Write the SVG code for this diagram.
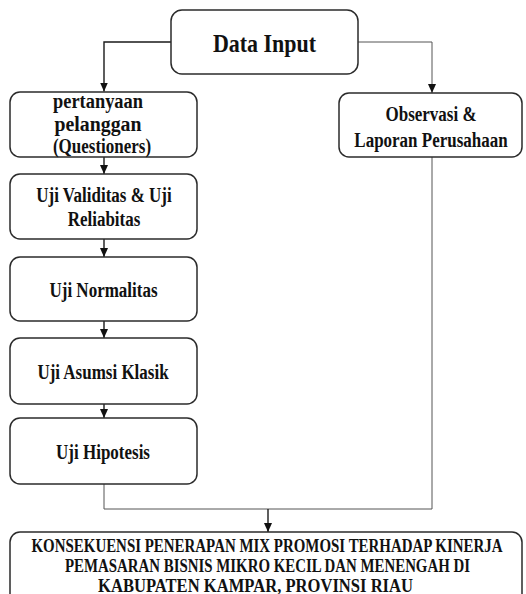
<svg xmlns="http://www.w3.org/2000/svg" width="526" height="594" viewBox="0 0 526 594">
<defs>
<marker id="ah" viewBox="0 0 9 8" refX="9" refY="4" markerWidth="9" markerHeight="8" markerUnits="userSpaceOnUse" orient="auto">
<path d="M0,0 L9,4 L0,8 Z" fill="#111"/>
</marker>
<style>
.box{fill:#fff;stroke:#2b2b2b;stroke-width:1.5}
.t{font-family:"Liberation Serif","Times New Roman",serif;font-weight:bold;fill:#111;text-anchor:middle;font-size:17px}
.c{fill:none;stroke:#1a1a1a;stroke-width:1.4}
.c2{fill:none;stroke:#555;stroke-width:1}
</style>
</defs>
<rect width="526" height="594" fill="#fff"/>
<g id="connectors">
<path class="c" d="M171,42 H104 V91.5" marker-end="url(#ah)"/>
<path class="c2" d="M358,42 H432 V93" marker-end="url(#ah)"/>
<path class="c" d="M104,157 V174" marker-end="url(#ah)"/>
<path class="c" d="M104,239 V257" marker-end="url(#ah)"/>
<path class="c" d="M104,321 V338" marker-end="url(#ah)"/>
<path class="c" d="M104,404 V418" marker-end="url(#ah)"/>
<path class="c2" d="M104,484 V509 H432 V157"/>
<path class="c" d="M268,509 V532" marker-end="url(#ah)"/>
</g>
<g id="data-input">
<rect class="box" x="171" y="10" width="187" height="64" rx="11"/>
<text class="t" transform="translate(264.5,51.5) scale(1,1.18)" style="font-size:22px">Data Input</text>
</g>
<g id="pertanyaan">
<rect class="box" x="10" y="92" width="187" height="65" rx="10"/>
<text class="t" transform="translate(98,108) scale(1,1.2)" textLength="90" lengthAdjust="spacingAndGlyphs">pertanyaan</text>
<text class="t" transform="translate(98,131) scale(1,1.2)" textLength="87" lengthAdjust="spacingAndGlyphs">pelanggan</text>
<text class="t" transform="translate(102,153.3) scale(1,1.2)">(Questioners)</text>
</g>
<g id="observasi">
<rect class="box" x="339" y="93" width="183" height="64" rx="10"/>
<text class="t" transform="translate(431,120.7) scale(1,1.2)">Observasi &amp;</text>
<text class="t" transform="translate(431,146.7) scale(1,1.2)">Laporan Perusahaan</text>
</g>
<g id="validitas">
<rect class="box" x="10" y="174" width="187" height="65" rx="10"/>
<text class="t" transform="translate(104,201.7) scale(1,1.2)">Uji Validitas &amp; Uji</text>
<text class="t" transform="translate(104,225.7) scale(1,1.2)">Reliabitas</text>
</g>
<g id="normalitas">
<rect class="box" x="10" y="257" width="187" height="64" rx="10"/>
<text class="t" transform="translate(103.5,296.7) scale(1,1.2)">Uji Normalitas</text>
</g>
<g id="asumsi">
<rect class="box" x="10" y="338" width="187" height="66" rx="10"/>
<text class="t" transform="translate(103,379) scale(1,1.2)">Uji Asumsi Klasik</text>
</g>
<g id="hipotesis">
<rect class="box" x="10" y="418" width="187" height="66" rx="10"/>
<text class="t" transform="translate(103,459.3) scale(1,1.2)">Uji Hipotesis</text>
</g>
<g id="konsekuensi">
<rect class="box" x="10" y="532" width="512" height="80" rx="10"/>
<text class="t" transform="translate(267,551.5) scale(1,1.18)" style="font-size:16px" textLength="471" lengthAdjust="spacingAndGlyphs">KONSEKUENSI PENERAPAN MIX PROMOSI TERHADAP KINERJA</text>
<text class="t" transform="translate(267.5,572) scale(1,1.18)" style="font-size:16px" textLength="405" lengthAdjust="spacingAndGlyphs">PEMASARAN BISNIS MIKRO KECIL DAN MENENGAH DI</text>
<text class="t" transform="translate(255.5,591.5) scale(1,1.18)" style="font-size:16px" textLength="315" lengthAdjust="spacingAndGlyphs">KABUPATEN KAMPAR, PROVINSI RIAU</text>
</g>
</svg>
